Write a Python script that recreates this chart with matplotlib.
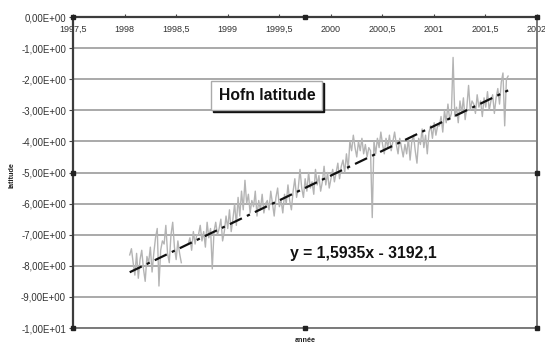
import numpy as np
import matplotlib
matplotlib.use("Agg")
import matplotlib.pyplot as plt
from matplotlib.ticker import FuncFormatter
from matplotlib.transforms import offset_copy

plt.rcParams['font.family'] = ['Liberation Sans', 'DejaVu Sans']

# ---- data ----
t_start, t_end = 1998.05, 2001.72
latitude = [
    -7.65, -7.45, -7.9, -8.3, -7.6, -8.4, -7.8, -7.5, -8.1, -8.5,
    -7.7, -7.9, -7.4, -8.2, -7.6, -7.1, -6.8, -8.65, -7.5, -7.2,
    -7.3, -6.7, -7.6, -7.9, -7.0, -6.6, -7.4, -7.8, -7.2, -7.6,
    -7.9, np.nan, np.nan, np.nan, -7.3, -7.1, -7.5, -6.9, -7.3, -7.0,
    -7.0, -6.7, -7.2, -6.9, -7.4, -6.6, -7.1, -6.8, -8.1, -6.9,
    -6.6, -7.0, -6.8, -6.5, -7.2, -6.9, -6.4, -6.8, -6.2, -6.9,
    -6.5, -6.0, -6.7, -5.8, -6.4, -5.6, -6.2, -5.25, -6.0, -5.7,
    -6.3, -5.9, -6.1, -5.6, -6.4, -5.9, -6.2, -5.7, -6.3, -6.0,
    -5.9, -6.2, -5.6, -6.0, -6.4, -5.8, -5.5, -6.1, -5.9, -6.3,
    -5.7, -6.0, -5.4, -5.9, -6.2, -5.6, -5.2, -5.8, -5.5, -4.9,
    -5.5, -5.8, -5.2, -5.6, -5.0, -5.5, -5.3, -5.7, -4.9, -5.4,
    -5.1, -5.6, -5.3, -4.8, -5.4, -5.0, -5.5, -5.2, -4.9, -5.3,
    -5.0, -4.7, -5.2, -4.8, -4.6, -5.0, -4.4, -4.9, -4.0, -4.3,
    -3.8, -4.2, -4.5, -4.0, -4.3, -3.9, -4.4, -4.1, -4.5, -4.2,
    -4.3, -6.45, -4.0, -4.4, -3.9, -4.2, -3.7, -4.1, -4.4, -3.9,
    -4.2, -3.8, -4.3, -4.0, -3.7, -4.1, -4.4, -3.9, -4.2, -4.5,
    -4.1, -4.4, -3.9, -4.6, -4.0, -3.8, -4.3, -4.7, -3.9, -4.1,
    -3.6, -4.2, -3.8, -4.4, -3.7, -3.5, -3.9, -3.4, -3.8, -3.5,
    -3.5, -3.2, -3.7, -3.0, -3.4, -2.8, -3.3, -3.1, -1.3, -3.2,
    -2.9, -3.4, -2.7, -3.1, -2.6, -3.3, -2.9, -2.2, -3.0, -2.7,
    -2.8, -3.1, -2.5, -2.9, -2.7, -3.2, -2.6, -2.9, -2.4, -3.0,
    -2.7, -2.5, -3.1, -2.6, -2.3, -2.8, -2.1, -1.8, -3.5, -2.0, -1.9,
]
trend_slope = 1.5935
trend_intercept = -3192.1
title_text = "Hofn latitude"
equation_text = "y = 1,5935x - 3192,1"
x_ticks = [1997.5, 1998, 1998.5, 1999, 1999.5, 2000, 2000.5, 2001, 2001.5, 2002]
y_ticks = [0, -1, -2, -3, -4, -5, -6, -7, -8, -9, -10]

years = np.linspace(t_start, t_end, len(latitude))
lat = np.array(latitude, dtype=float)

fig = plt.figure(figsize=(5.45, 3.47), dpi=100)
ax = fig.add_axes([73/545, 1-328/347, 464/545, 311/347])

# grid
for yv in y_ticks:
    ax.axhline(yv, color='#a3a3a3', lw=1.3, zorder=0)

ax.plot(years, lat, color='#b4b4b4', lw=1.0, zorder=2)
tx = np.array([years[0], years[-1]])
ax.plot(tx, trend_slope * tx + trend_intercept, color='#111111', lw=1.6,
        ls=(0, (6, 2.5, 1.5, 2.5)), zorder=3)

ax.set_xlim(1997.5, 2002)
ax.set_ylim(-10, 0)
ax.set_xticks(x_ticks)
ax.set_yticks(y_ticks)
ax.xaxis.set_major_formatter(FuncFormatter(lambda v, p: f"{v:g}".replace('.', ',')))
ax.yaxis.set_major_formatter(FuncFormatter(lambda v, p: f"{v:.2E}".replace('.', ',')))

ax.xaxis.set_ticks_position('top')
ax.tick_params(axis='x', direction='out', length=2.5, width=0.8, color='#444',
               labelsize=6.5, labelcolor='#333', pad=-14.5)
ax.tick_params(axis='y', direction='out', length=3, width=0.8, color='#444',
               labelsize=6.9, labelcolor='#333', pad=2)

for s in ['left', 'top']:
    ax.spines[s].set_color('#3c3c3c')
    ax.spines[s].set_linewidth(1.6)
for s in ['right', 'bottom']:
    ax.spines[s].set_color('#7a7a7a')
    ax.spines[s].set_linewidth(1.4)

# labels
ax.text(0.5, -0.04, "année", transform=ax.transAxes, ha='center', va='center',
        fontsize=5.2, fontweight='bold', color='#222')
fig.text(12/545, 1-175/347, "latitude", rotation=90, ha='center', va='center',
         fontsize=5.2, fontweight='bold', color='#222')

# title box with shadow
shadow_tr = offset_copy(ax.transData, fig=fig, x=2, y=-2, units='dots')
ax.text(1999.38, -2.52, title_text, transform=shadow_tr, ha='center', va='center',
        fontsize=11.3, fontweight='bold', color=(0, 0, 0, 0), zorder=4,
        bbox=dict(boxstyle='square,pad=0.45', fc='#111', ec='#111', lw=1))
ax.text(1999.38, -2.52, title_text, ha='center', va='center',
        fontsize=11.3, fontweight='bold', color='#111', zorder=5,
        bbox=dict(boxstyle='square,pad=0.45', fc='white', ec='#aaaaaa', lw=1))

ax.text(2000.32, -7.61, equation_text, ha='center', va='center',
        fontsize=11.3, fontweight='bold', color='#111', zorder=5)

# selection handles
hx = [0, 0.5, 1, 0, 1, 0, 0.5, 1]
hy = [1, 1, 1, 0.5, 0.5, 0, 0, 0]
ax.plot(hx, hy, ls='none', marker='s', ms=2.5, color='#222', transform=ax.transAxes,
        clip_on=False, zorder=6)

fig.savefig("out.png", dpi=100, facecolor='white')
